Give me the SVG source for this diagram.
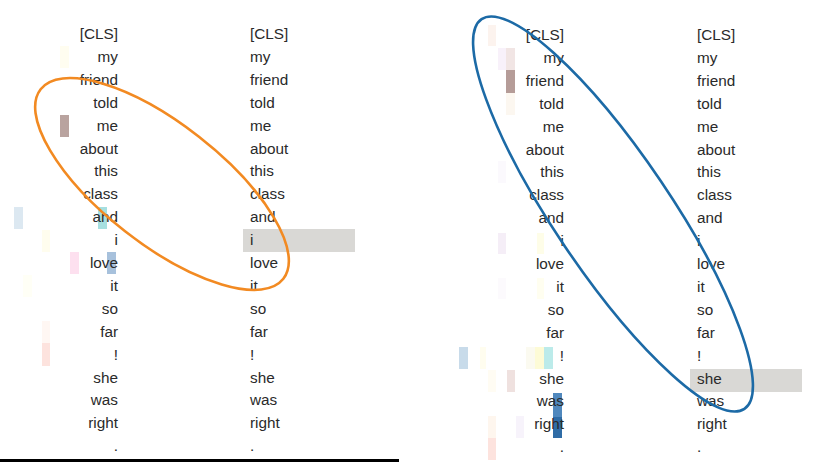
<svg xmlns="http://www.w3.org/2000/svg" width="813" height="462" viewBox="0 0 813 462">
<style>
  text { font-family: "Liberation Sans", Arial, Helvetica, sans-serif; font-size: 15.3px; fill: #2a2a2a; }
  .l { text-anchor: end; }
  .r { text-anchor: start; }
  .hl { fill: #d9d8d5; }
  .ring { fill: none; stroke-width: 2.6; }
</style>
<rect width="813" height="462" fill="#ffffff"/>

<g id="panel-left">
  <g id="left-heat">
    <rect x="60" y="46" width="9" height="22" fill="#fffdf0"/>
    <rect x="60" y="115" width="9" height="22" fill="#b9a39f"/>
    <rect x="14" y="207" width="9" height="22" fill="#dce8f1"/>
    <rect x="98" y="207" width="9" height="22" fill="#a6dfe0"/>
    <rect x="42" y="230" width="8" height="22" fill="#fffdee"/>
    <rect x="70" y="252" width="9" height="22" fill="#fde0ef"/>
    <rect x="107" y="252" width="9" height="22" fill="#a7c1dc"/>
    <rect x="23" y="275" width="9" height="22" fill="#fffff6"/>
    <rect x="42" y="321" width="8" height="22" fill="#fff7f3"/>
    <rect x="42" y="343" width="8" height="23" fill="#fde3de"/>
  </g>
  <rect id="left-highlight" class="hl" x="243" y="229" width="112" height="23"/>
  <g id="left-tokens-src">
    <text class="l" x="118" y="39">[CLS]</text>
    <text class="l" x="118" y="61.9">my</text>
    <text class="l" x="118" y="84.8">friend</text>
    <text class="l" x="118" y="107.7">told</text>
    <text class="l" x="118" y="130.6">me</text>
    <text class="l" x="118" y="153.5">about</text>
    <text class="l" x="118" y="176.4">this</text>
    <text class="l" x="118" y="199.3">class</text>
    <text class="l" x="118" y="222.2">and</text>
    <text class="l" x="118" y="245.1">i</text>
    <text class="l" x="118" y="268">love</text>
    <text class="l" x="118" y="290.9">it</text>
    <text class="l" x="118" y="313.8">so</text>
    <text class="l" x="118" y="336.7">far</text>
    <text class="l" x="118" y="359.6">!</text>
    <text class="l" x="118" y="382.5">she</text>
    <text class="l" x="118" y="405.4">was</text>
    <text class="l" x="118" y="428.3">right</text>
    <text class="l" x="118" y="451.2">.</text>
  </g>
  <g id="left-tokens-dst">
    <text class="r" x="250" y="39">[CLS]</text>
    <text class="r" x="250" y="61.9">my</text>
    <text class="r" x="250" y="84.8">friend</text>
    <text class="r" x="250" y="107.7">told</text>
    <text class="r" x="250" y="130.6">me</text>
    <text class="r" x="250" y="153.5">about</text>
    <text class="r" x="250" y="176.4">this</text>
    <text class="r" x="250" y="199.3">class</text>
    <text class="r" x="250" y="222.2">and</text>
    <text class="r" x="250" y="245.1">i</text>
    <text class="r" x="250" y="268">love</text>
    <text class="r" x="250" y="290.9">it</text>
    <text class="r" x="250" y="313.8">so</text>
    <text class="r" x="250" y="336.7">far</text>
    <text class="r" x="250" y="359.6">!</text>
    <text class="r" x="250" y="382.5">she</text>
    <text class="r" x="250" y="405.4">was</text>
    <text class="r" x="250" y="428.3">right</text>
    <text class="r" x="250" y="451.2">.</text>
  </g>
  <ellipse id="orange-ring" class="ring" stroke="#f28a22" cx="162" cy="184" rx="154" ry="60" transform="rotate(38 162 184)"/>
  <rect id="bottom-bar" x="0" y="459" width="399" height="3" fill="#000000"/>
</g>

<g id="panel-right">
  <g id="right-heat">
    <rect x="488" y="25" width="8" height="21" fill="#fcf3ee"/>
    <rect x="498" y="48" width="8" height="22" fill="#f8f1fa"/>
    <rect x="506" y="48" width="9" height="22" fill="#f1e5e4"/>
    <rect x="506" y="70" width="9" height="23" fill="#b59c98"/>
    <rect x="506" y="93" width="9" height="22" fill="#fcf7f0"/>
    <rect x="498" y="161" width="8" height="22" fill="#fbf9fd"/>
    <rect x="498" y="233" width="8" height="21" fill="#f5eef7"/>
    <rect x="537" y="233" width="7" height="21" fill="#fefde8"/>
    <rect x="498" y="278" width="8" height="21" fill="#fcfafd"/>
    <rect x="537" y="278" width="7" height="21" fill="#fffef0"/>
    <rect x="459" y="347" width="9" height="22" fill="#c8dbea"/>
    <rect x="480" y="347" width="6" height="22" fill="#fffdef"/>
    <rect x="526" y="347" width="9" height="22" fill="#fbfaf0"/>
    <rect x="535" y="347" width="9" height="22" fill="#fdfbd6"/>
    <rect x="544" y="347" width="9" height="22" fill="#bcebea"/>
    <rect x="488" y="370" width="8" height="22" fill="#fffcf3"/>
    <rect x="507" y="370" width="8" height="22" fill="#efe1df"/>
    <rect x="553" y="393" width="9" height="24" fill="#5088bd"/>
    <rect x="553" y="417" width="9" height="21" fill="#2f6ca6"/>
    <rect x="488" y="416" width="8" height="22" fill="#fef6ee"/>
    <rect x="516" y="416" width="8" height="22" fill="#f7f3fb"/>
    <rect x="488" y="438" width="8" height="22" fill="#fde3de"/>
  </g>
  <rect id="right-highlight" class="hl" x="690" y="369" width="112" height="23"/>
  <g id="right-tokens-src">
    <text class="l" x="564" y="40">[CLS]</text>
    <text class="l" x="564" y="62.9">my</text>
    <text class="l" x="564" y="85.8">friend</text>
    <text class="l" x="564" y="108.7">told</text>
    <text class="l" x="564" y="131.6">me</text>
    <text class="l" x="564" y="154.5">about</text>
    <text class="l" x="564" y="177.4">this</text>
    <text class="l" x="564" y="200.3">class</text>
    <text class="l" x="564" y="223.2">and</text>
    <text class="l" x="564" y="246.1">i</text>
    <text class="l" x="564" y="269">love</text>
    <text class="l" x="564" y="291.9">it</text>
    <text class="l" x="564" y="314.8">so</text>
    <text class="l" x="564" y="337.7">far</text>
    <text class="l" x="564" y="360.6">!</text>
    <text class="l" x="564" y="383.5">she</text>
    <text class="l" x="564" y="406.4">was</text>
    <text class="l" x="564" y="429.3">right</text>
    <text class="l" x="564" y="452.2">.</text>
  </g>
  <g id="right-tokens-dst">
    <text class="r" x="697" y="40">[CLS]</text>
    <text class="r" x="697" y="62.9">my</text>
    <text class="r" x="697" y="85.8">friend</text>
    <text class="r" x="697" y="108.7">told</text>
    <text class="r" x="697" y="131.6">me</text>
    <text class="r" x="697" y="154.5">about</text>
    <text class="r" x="697" y="177.4">this</text>
    <text class="r" x="697" y="200.3">class</text>
    <text class="r" x="697" y="223.2">and</text>
    <text class="r" x="697" y="246.1">i</text>
    <text class="r" x="697" y="269">love</text>
    <text class="r" x="697" y="291.9">it</text>
    <text class="r" x="697" y="314.8">so</text>
    <text class="r" x="697" y="337.7">far</text>
    <text class="r" x="697" y="360.6">!</text>
    <text class="r" x="697" y="383.5">she</text>
    <text class="r" x="697" y="406.4">was</text>
    <text class="r" x="697" y="429.3">right</text>
    <text class="r" x="697" y="452.2">.</text>
  </g>
  <ellipse id="blue-ring" class="ring" stroke="#1c6aa6" cx="613" cy="214" rx="235" ry="58" transform="rotate(56 613 214)"/>
</g>
</svg>
